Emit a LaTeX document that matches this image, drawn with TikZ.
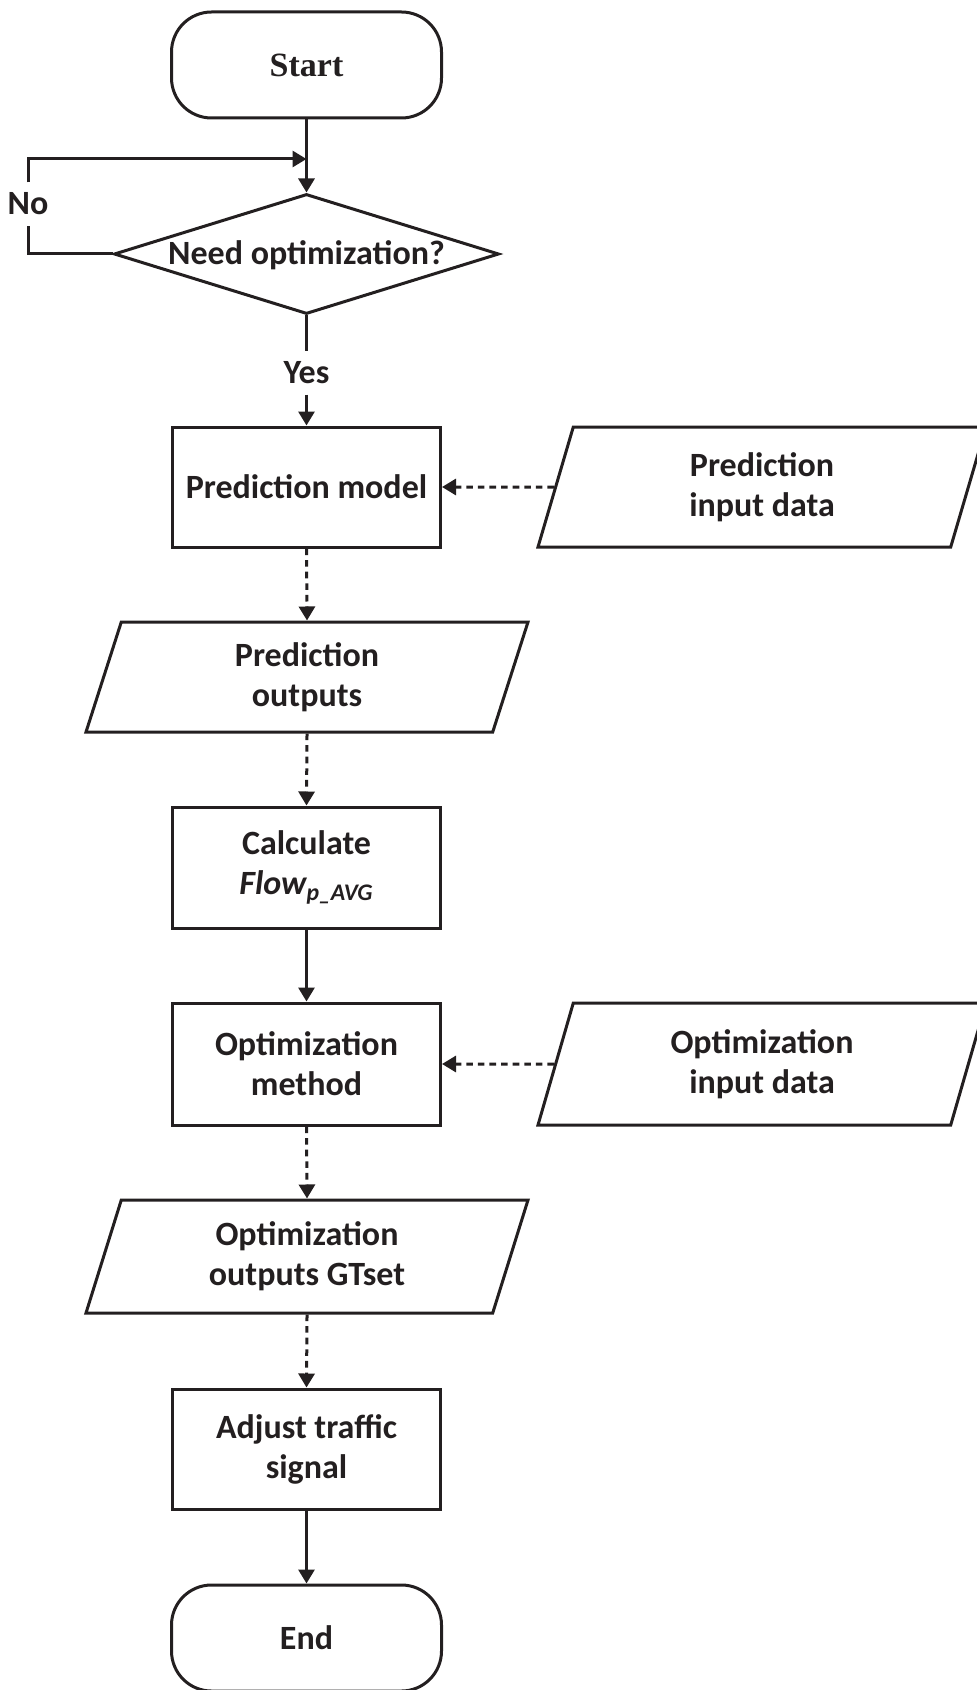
\documentclass[tikz,border=0pt]{standalone}
\usepackage{fontspec}
\setmainfont{Carlito}
\newfontfamily\startfont{Liberation Serif}
\usetikzlibrary{shapes.geometric,arrows.meta}
\definecolor{ink}{HTML}{231F20}
\begin{document}
\begin{tikzpicture}[x=0.5pt,y=-0.5pt,
  every node/.style={font=\fontsize{17pt}{20pt}\selectfont\bfseries, text=ink},
  stroke/.style={line width=1.5pt, draw=ink},
  terminal/.style={stroke, rectangle, rounded corners=20pt, minimum width=135pt, minimum height=53pt, inner sep=0pt},
  process/.style={stroke, rectangle, minimum width=134pt, minimum height=60pt, align=center, inner sep=0pt},
  iobox/.style={stroke, trapezium, trapezium left angle=63, trapezium right angle=117,
    trapezium stretches body, minimum width=224pt, minimum height=60pt, align=center, inner sep=0pt},
  decision/.style={stroke, diamond, minimum width=192.5pt, minimum height=60pt, inner sep=0pt},
  flow/.style={stroke, -{Triangle[length=7pt,width=8pt]}},
  dataflow/.style={flow, dash pattern=on 3.3pt off 2.5pt},
  lbl/.style={inner xsep=0pt, inner ysep=5pt}
]
\useasboundingbox (0,0) rectangle (977,1690);

% main column
\node[terminal, font=\fontsize{17pt}{20pt}\selectfont\startfont\bfseries] (start) at (306.5,65) {Start};
\node[decision] (dec) at (306.5,254) {};
\node (dectext) at (306.5,255) {Need optimization?};
\node[process] (model) at (306.5,487) {Prediction model};
\node[iobox] (inpred) at (762,487) {Prediction\\input data};
\node[iobox, minimum width=221pt, minimum height=55pt] (outpred) at (307,677) {Prediction\\outputs};
\node[process, minimum height=60.5pt] (calc) at (306.5,867.5) {Calculate\\\textit{Flow\textsubscript{p\_AVG}}};
\node[process, minimum height=61pt] (method) at (306.5,1064) {Optimization\\method};
\node[iobox, minimum height=61pt] (inopt) at (762,1064) {Optimization\\input data};
\node[iobox, minimum width=221pt, minimum height=56.5pt] (outopt) at (307,1256.5) {Optimization\\outputs GTset};
\node[process] (adjust) at (306.5,1449) {Adjust traffic\\signal};
\node[terminal] (end) at (306.5,1638) {End};

% decision branches
\coordinate (loopin) at (306.5,159);
\node[lbl] (no) at (28,204) {No};
\node[lbl] (yes) at (306.5,373) {Yes};

\draw[flow] (start.south) -- (dec.north);
\draw[stroke] (dec.west) -| (no.south);
\draw[flow] (no.north) |- (loopin);
\draw[stroke] (dec.south) -- (yes.north);
\draw[flow] (yes.south) -- (model.north);

% data flows
\draw[dataflow] (inpred.west) -- (model.east);
\draw[dataflow] (model.south) -- (outpred.north);
\draw[dataflow] (outpred.south) -- (calc.north);
\draw[flow] (calc.south) -- (method.north);
\draw[dataflow] (inopt.west) -- (method.east);
\draw[dataflow] (method.south) -- (outopt.north);
\draw[dataflow] (outopt.south) -- (adjust.north);
\draw[flow] (adjust.south) -- (end.north);
\end{tikzpicture}
\end{document}
